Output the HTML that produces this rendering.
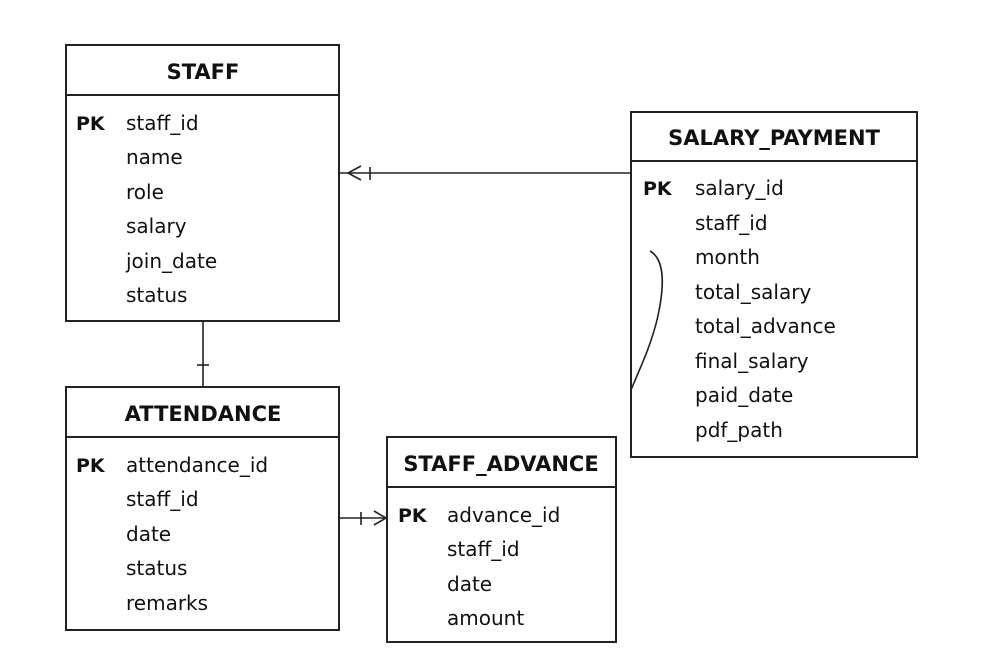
<!DOCTYPE html>
<html><head><style>
body{margin:0;background:#fff;}
svg{display:block}
text{font-family:"DejaVu Sans","Liberation Sans",sans-serif;fill:#111;}
.t{font-weight:bold;font-size:21px;text-anchor:middle}
.f{font-size:20px}
.pk{font-size:19px;font-weight:bold}
</style></head><body>
<svg width="1000" height="666" viewBox="0 0 1000 666">
<g fill="none" stroke="#222" stroke-width="2">
<rect x="66" y="45" width="273" height="276"/><line x1="66" y1="95" x2="339" y2="95"/>
<rect x="631" y="112" width="286" height="345"/><line x1="631" y1="161" x2="917" y2="161"/>
<rect x="66" y="387" width="273" height="243"/><line x1="66" y1="437" x2="339" y2="437"/>
<rect x="387" y="437" width="229" height="205"/><line x1="387" y1="487" x2="616" y2="487"/>
<g stroke-width="1.6">
<line x1="339" y1="173" x2="631" y2="173"/>
<polyline points="361,166 348,173 361,180"/><line x1="370" y1="167" x2="370" y2="180"/>
<line x1="203" y1="321" x2="203" y2="387"/><line x1="197" y1="365" x2="209" y2="365"/>
<line x1="339" y1="518" x2="387" y2="518"/><line x1="361" y1="512" x2="361" y2="525"/>
<polyline points="374,511 386,518 374,525"/>
<path d="M650,251 C666,260 664,290 657,320 C650,348 640,368 631,390"/>
</g>
</g>
<text class="t" x="203" y="79">STAFF</text>
<text class="pk" x="76" y="130">PK</text>
<text class="f" x="126" y="130">staff_id</text>
<text class="f" x="126" y="164">name</text>
<text class="f" x="126" y="199">role</text>
<text class="f" x="126" y="233">salary</text>
<text class="f" x="126" y="268">join_date</text>
<text class="f" x="126" y="302">status</text>

<text class="t" x="774" y="145">SALARY_PAYMENT</text>
<text class="pk" x="643" y="195">PK</text>
<text class="f" x="695" y="195">salary_id</text>
<text class="f" x="695" y="230">staff_id</text>
<text class="f" x="695" y="264">month</text>
<text class="f" x="695" y="299">total_salary</text>
<text class="f" x="695" y="333">total_advance</text>
<text class="f" x="695" y="368">final_salary</text>
<text class="f" x="695" y="402">paid_date</text>
<text class="f" x="695" y="437">pdf_path</text>

<text class="t" x="203" y="421">ATTENDANCE</text>
<text class="pk" x="76" y="472">PK</text>
<text class="f" x="126" y="472">attendance_id</text>
<text class="f" x="126" y="506">staff_id</text>
<text class="f" x="126" y="541">date</text>
<text class="f" x="126" y="575">status</text>
<text class="f" x="126" y="610">remarks</text>

<text class="t" x="501" y="471">STAFF_ADVANCE</text>
<text class="pk" x="398" y="522">PK</text>
<text class="f" x="447" y="522">advance_id</text>
<text class="f" x="447" y="556">staff_id</text>
<text class="f" x="447" y="591">date</text>
<text class="f" x="447" y="625">amount</text>
</svg>
</body></html>
